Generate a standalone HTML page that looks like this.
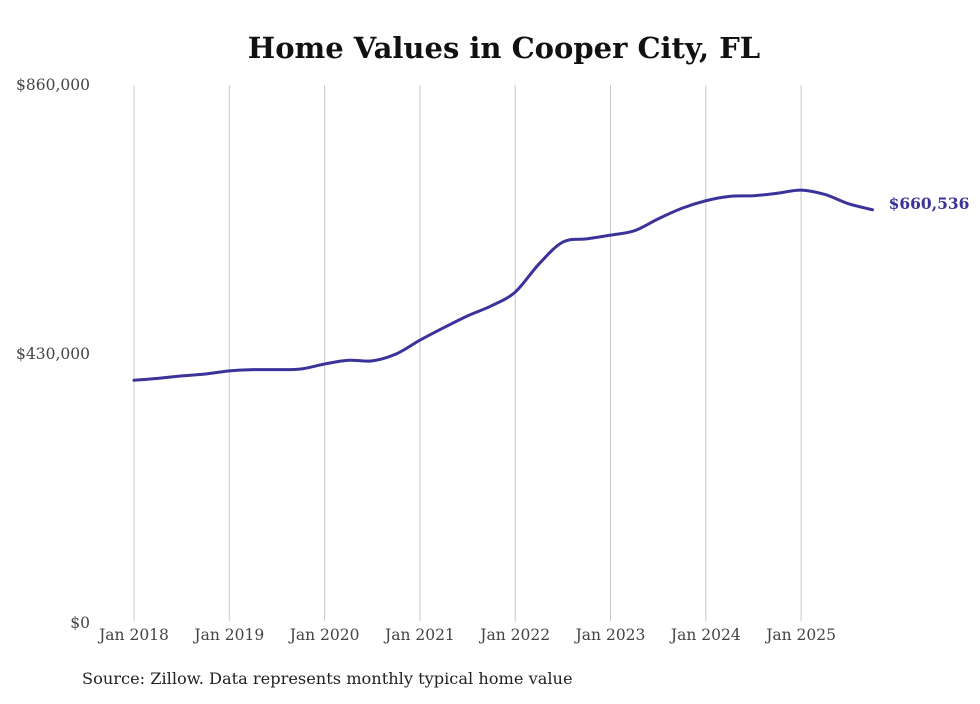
<!DOCTYPE html>
<html><head><meta charset="utf-8"><style>
html,body{margin:0;padding:0;background:#fff;}
svg text{font-family:"DejaVu Serif","Liberation Serif",serif;}
</style></head><body>
<svg width="980" height="699" viewBox="0 0 980 699" xmlns="http://www.w3.org/2000/svg">
<text x="504" y="58" text-anchor="middle" font-size="29" font-weight="bold" fill="#111">Home Values in Cooper City, FL</text>
<g id="grid"></g>
<g id="yaxis"></g>
<g id="xaxis"></g>
<path id="line" fill="none" stroke="#3b3399" stroke-width="3" stroke-linejoin="round" stroke-linecap="round"/>
<text id="endlabel" font-size="15.5" font-weight="bold" fill="#3b3399"></text>
<text x="82" y="684" font-size="16.2" fill="#222">Source: Zillow. Data represents monthly typical home value</text>
</svg>
<script>
const dates = [2018.0,2018.25,2018.5,2018.75,2019.0,2019.25,2019.5,2019.75,2020.0,2020.25,2020.5,2020.75,2021.0,2021.25,2021.5,2021.75,2022.0,2022.25,2022.5,2022.75,2023.0,2023.25,2023.5,2023.75,2024.0,2024.25,2024.5,2024.75,2025.0,2025.25,2025.5,2025.75];
const values = [388000,391000,395000,398000,403000,405000,405000,406000,414000,420000,419000,430000,452000,472000,491000,507000,529000,574000,609000,614000,620000,627000,646000,663000,675000,682000,683000,687000,692000,685000,670000,660536];
const yTicks = [0,430000,860000];
const yTickLabels = ["$0","$430,000","$860,000"];
const xTicks = [2018,2019,2020,2021,2022,2023,2024,2025];
const xTickLabels = ["Jan 2018","Jan 2019","Jan 2020","Jan 2021","Jan 2022","Jan 2023","Jan 2024","Jan 2025"];
const endLabel = "$660,536";

const NS="http://www.w3.org/2000/svg";
const xS = d => 134 + (d-2018)*95.3;
const yS = v => 623 - v/860000*538;
function mk(tag, attrs, parent, txt){const e=document.createElementNS(NS,tag);for(const k in attrs)e.setAttribute(k,attrs[k]);if(txt!==undefined)e.textContent=txt;parent.appendChild(e);return e;}
const grid=document.getElementById('grid'), xa=document.getElementById('xaxis'), ya=document.getElementById('yaxis');
xTicks.forEach((t,i)=>{
  const l=mk('line',{x1:xS(t),x2:xS(t),y1:85,y2:621,stroke:'#c8c8c8','stroke-width':1},grid);
  
  
  const tx=mk('text',{x:xS(t),y:640,'text-anchor':'middle','font-size':15.5,fill:'#444'},xa,xTickLabels[i]);
  
  
});
yTicks.forEach((t,i)=>{
  const tx=mk('text',{x:90,y:yS(t)+5,'text-anchor':'end','font-size':15.5,fill:'#444'},ya,yTickLabels[i]);
  
  
});
const pts=dates.map((d,i)=>[xS(d),yS(values[i])]);
let p='M'+pts[0][0]+','+pts[0][1];
for(let i=0;i<pts.length-1;i++){
  const p0=pts[Math.max(0,i-1)],p1=pts[i],p2=pts[i+1],p3=pts[Math.min(pts.length-1,i+2)];
  const c1=[p1[0]+(p2[0]-p0[0])/6,p1[1]+(p2[1]-p0[1])/6];
  const c2=[p2[0]-(p3[0]-p1[0])/6,p2[1]-(p3[1]-p1[1])/6];
  p+=' C'+c1+' '+c2+' '+p2;
}
document.getElementById('line').setAttribute('d',p);
const last=pts[pts.length-1];
const el=document.getElementById('endlabel');
el.setAttribute('x',last[0]+16);el.setAttribute('y',last[1]-1);el.textContent=endLabel;
</script>
</body></html>
